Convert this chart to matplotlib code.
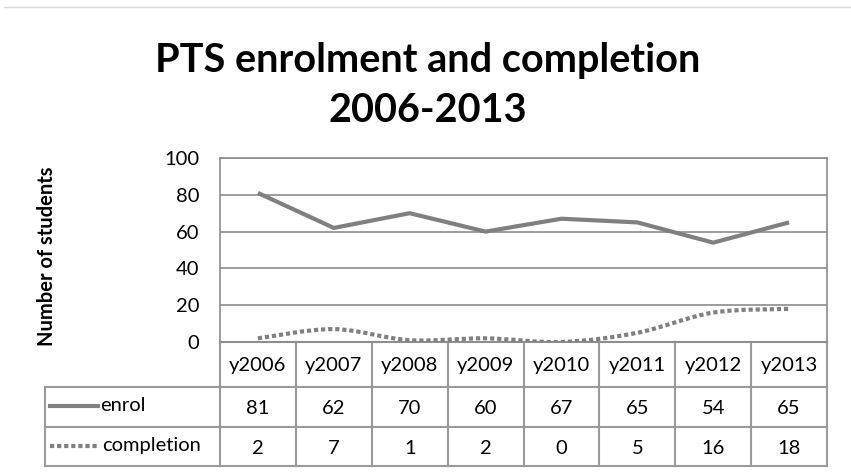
import matplotlib
matplotlib.use("Agg")
import matplotlib.pyplot as plt
from matplotlib.path import Path
from matplotlib.patches import PathPatch
from matplotlib.lines import Line2D
import numpy as np

years = ["y2006", "y2007", "y2008", "y2009", "y2010", "y2011", "y2012", "y2013"]
enrol = [81, 62, 70, 60, 67, 65, 54, 65]
completion = [2, 7, 1, 2, 0, 5, 16, 18]
yticks = [0, 20, 40, 60, 80, 100]
title_lines = ["PTS enrolment and completion", "2006-2013"]
ylabel = "Number of students"

FONT = ["Lato", "DejaVu Sans"]
plt.rcParams['font.family'] = FONT

W, H = 851, 473
fig = plt.figure(figsize=(W / 100, H / 100), dpi=100)
L, R, T, B = 220, 827, 158, 342
ax = fig.add_axes([L / W, 1 - B / H, (R - L) / W, (B - T) / H])

fs = 14.5
n = len(years)
x = np.arange(n)
ax.set_xlim(-0.5, n - 0.5)
ax.set_ylim(0, 100)
ax.set_yticks(yticks)
ax.set_yticklabels([str(v) for v in yticks], fontsize=fs)
ax.tick_params(axis='y', length=0, pad=15)
ax.set_xticks([])
gcol = "#8c8c8c"
ax.grid(axis='y', color=gcol, lw=1.2)
ax.set_axisbelow(True)
for s in ax.spines.values():
    s.set_color(gcol)
    s.set_linewidth(1.2)

lcol = "#808080"
ax.plot(x, enrol, color=lcol, lw=3, solid_capstyle='butt', zorder=3)

# smoothed completion curve (Bezier path through data points)
pts = np.column_stack([x, completion]).astype(float)
verts = [tuple(pts[0])]
codes = [Path.MOVETO]
for i in range(n - 1):
    p0 = pts[i - 1] if i > 0 else pts[i]
    p1 = pts[i]
    p2 = pts[i + 1]
    p3 = pts[i + 2] if i + 2 < n else pts[i + 1]
    c1 = p1 + (p2 - p0) / 6
    c2 = p2 - (p3 - p1) / 6
    verts += [tuple(c1), tuple(c2), tuple(p2)]
    codes += [Path.CURVE4] * 3
patch = PathPatch(Path(verts, codes), fill=False, edgecolor=lcol, lw=3,
                  linestyle=(0, (1.0, 0.7)), capstyle='butt', zorder=3)
ax.add_patch(patch)

# data table
tcol = "#9a9a9a"
px_per_unit = (R - L) / n
ax_h = B - T
def yfrac(py):
    return (B - py) / ax_h
rows_y = [342, 387, 427, 466]
left_x = -0.5 - (L - 45) / px_per_unit
tr = ax.get_xaxis_transform()
kw = dict(color=tcol, lw=1.5, transform=tr, clip_on=False)
ax.add_line(Line2D([-0.5, n - 0.5], [yfrac(342)] * 2, **kw))
for py in rows_y[1:]:
    ax.add_line(Line2D([left_x, n - 0.5], [yfrac(py)] * 2, **kw))
for i in range(n + 1):
    ax.add_line(Line2D([i - 0.5, i - 0.5], [yfrac(342), yfrac(466)], **kw))
ax.add_line(Line2D([left_x, left_x], [yfrac(387), yfrac(466)], **kw))

for i in range(n):
    ax.text(i, yfrac(366), years[i], ha='center', va='center', fontsize=fs, transform=tr)
    ax.text(i, yfrac(408), str(enrol[i]), ha='center', va='center', fontsize=fs, transform=tr)
    ax.text(i, yfrac(448), str(completion[i]), ha='center', va='center', fontsize=fs, transform=tr)

def px2x(p):
    return -0.5 + (p - L) / px_per_unit
ax.add_line(Line2D([px2x(50), px2x(98)], [yfrac(406)] * 2, color=lcol, lw=3,
                   transform=tr, clip_on=False))
ax.text(px2x(100), yfrac(405), "enrol", ha='left', va='center', fontsize=fs, transform=tr)
ax.add_line(Line2D([px2x(50), px2x(98)], [yfrac(446)] * 2, color=lcol, lw=3,
                   linestyle=(0, (1.0, 0.7)), transform=tr, clip_on=False))
ax.text(px2x(102), yfrac(445), "completion", ha='left', va='center', fontsize=fs, transform=tr)

# y label
fig.text(47 / W, 1 - 256 / H, ylabel, rotation=90, ha='center', va='center',
         fontsize=14.5, fontweight='bold')

# title
fig.text(428 / W, 1 - 72 / H, title_lines[0], ha='center', va='baseline', fontsize=28.5,
         fontweight='bold')
fig.text(428 / W, 1 - 122 / H, title_lines[1], ha='center', va='baseline', fontsize=28.5,
         fontweight='bold')

# top border line
fig.add_artist(Line2D([4 / W, 1], [1 - 7 / H] * 2, color="#d9d9d9", lw=1))

fig.savefig("out.png", dpi=100)
